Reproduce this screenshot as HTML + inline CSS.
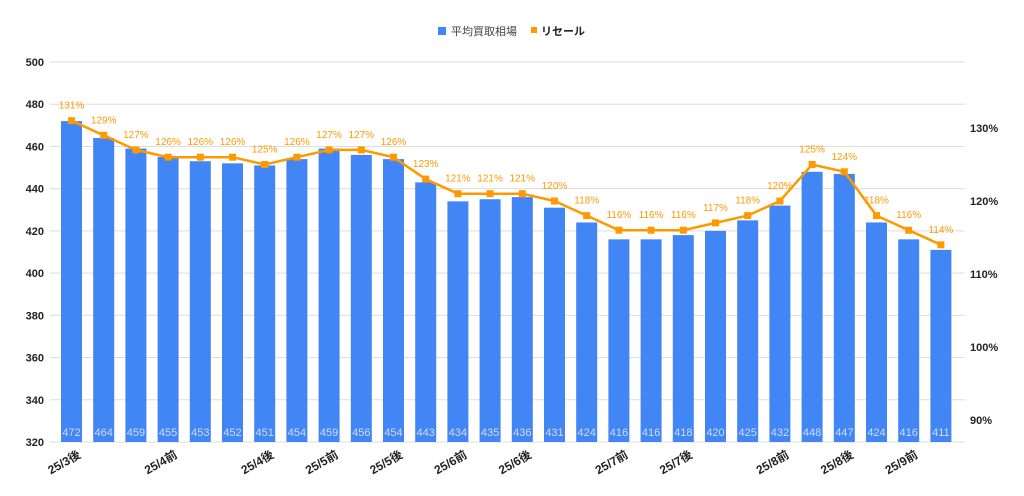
<!DOCTYPE html><html><head><meta charset="utf-8"><style>body{margin:0;background:#fff}svg{display:block}text{font-family:"Liberation Sans","Noto Sans CJK JP",sans-serif}</style></head><body>
<svg id="s" width="1024" height="496" xmlns="http://www.w3.org/2000/svg"></svg>
<script>
const s=document.getElementById('s');let h='';
const v=[472,464,459,455,453,452,451,454,459,456,454,443,434,435,436,431,424,416,416,418,420,425,432,448,447,424,416,411];
const p=[131,129,127,126,126,126,125,126,127,127,126,123,121,121,121,120,118,116,116,116,117,118,120,125,124,118,116,114];
const Y=x=>442-(x-320)*2.111, P=x=>128+(130-x)*7.3, X=i=>71.5+i*32.2;
h+='<rect x="438" y="27" width="8" height="8" fill="#4285f4"/><text x="451" y="35" font-size="11" fill="#444">平均買取相場</text><rect x="531" y="27" width="6" height="6" fill="#ff9900"/><text x="541" y="35" font-size="11" fill="#222" font-weight="bold">リセール</text>';
for(let t=320;t<=500;t+=20){h+=`<line x1="50" x2="965" y1="${Y(t)}" y2="${Y(t)}" stroke="#ddd"/><text x="44" y="${Y(t)+4}" font-size="11" font-weight="bold" text-anchor="end" fill="#222">${t}</text>`}
[130,120,110,100,90].forEach(t=>h+=`<text x="970" y="${P(t)+4}" font-size="11" font-weight="bold" fill="#222">${t}%</text>`);
v.forEach((a,i)=>{h+=`<rect x="${X(i)-10.5}" y="${Y(a)}" width="21" height="${442-Y(a)}" fill="#4285f4"/><text x="${X(i)}" y="436" font-size="11" text-anchor="middle" fill="#d0dcf5">${a}</text>`});
h+=`<polyline fill="none" stroke="#ff9900" stroke-width="2.5" points="${p.map((a,i)=>X(i)+','+P(a)).join(' ')}"/>`;
p.forEach((a,i)=>{h+=`<rect x="${X(i)-3.5}" y="${P(a)-3.5}" width="7" height="7" fill="#ff9900"/><text x="${X(i)}" y="${P(a)-12}" font-size="10" text-anchor="middle" fill="#ff9900">${a}%</text>`});
const L={0:'25/3後',3:'25/4前',6:'25/4後',8:'25/5前',10:'25/5後',12:'25/6前',14:'25/6後',17:'25/7前',19:'25/7後',22:'25/8前',24:'25/8後',26:'25/9前'};
for(const k in L){const x=X(+k)+10;h+=`<text transform="translate(${x},457) rotate(-30)" font-size="12" font-weight="bold" text-anchor="end" fill="#222">${L[k]}</text>`}
s.innerHTML=h;
</script></body></html>
